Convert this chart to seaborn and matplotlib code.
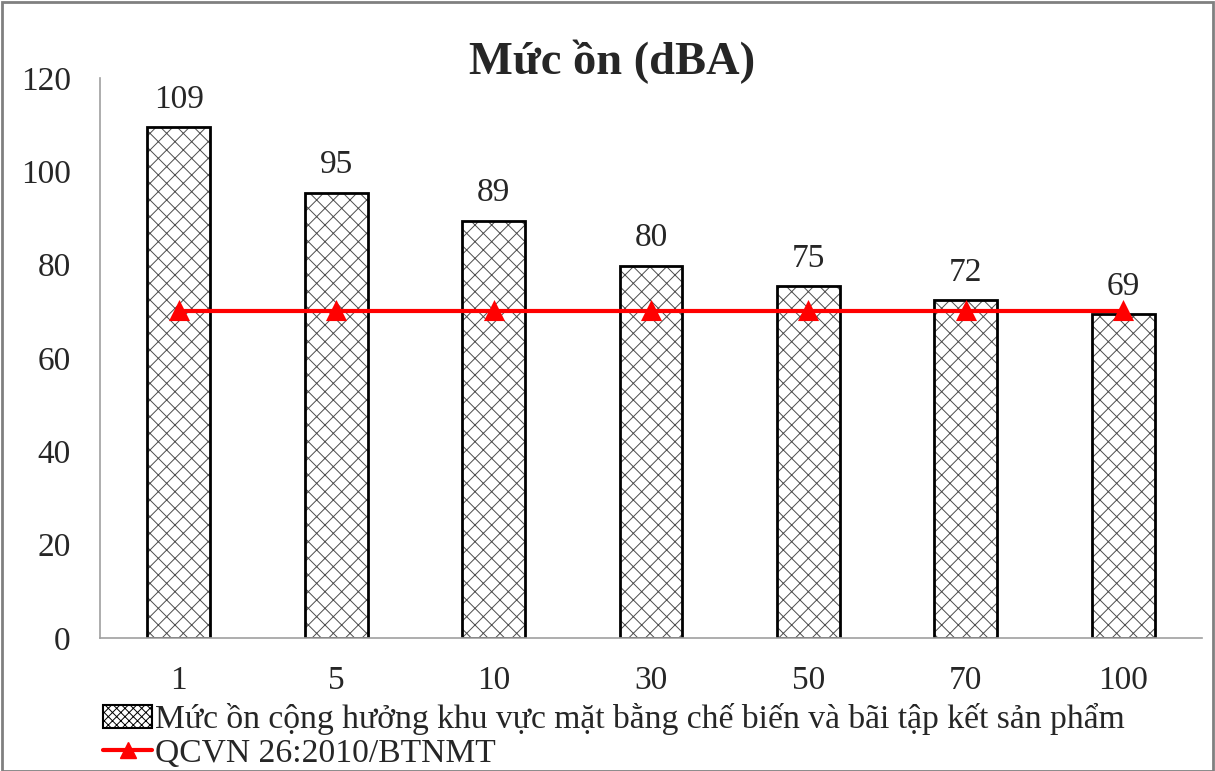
import numpy as np
import pandas as pd
import seaborn as sns
import matplotlib.pyplot as plt
from matplotlib.patches import Patch, Rectangle
from matplotlib.lines import Line2D

# dữ liệu
khoang_cach = ["1", "5", "10", "30", "50", "70", "100"]
muc_on = [109.4, 95.4, 89.4, 79.8, 75.4, 72.4, 69.4]
qcvn = [70, 70, 70, 70, 70, 70, 70]

ten_bar = "Mức ồn cộng hưởng khu vực mặt bằng chế biến và bãi tập kết sản phẩm"
ten_line = "QCVN 26:2010/BTNMT"

df = pd.DataFrame({"kc": khoang_cach, "on": muc_on, "qc": qcvn})

sns.set_style("white")
plt.rcParams['font.family'] = ['Liberation Serif', 'DejaVu Serif']
plt.rcParams['hatch.linewidth'] = 0.7

fig = plt.figure(figsize=(12.15, 7.71), dpi=100)
ax = fig.add_axes([0.0823, 0.1725, 0.907, 0.7263])

sns.barplot(data=df, x="kc", y="on", order=khoang_cach, color="white",
            edgecolor="black", linewidth=2, width=0.4, ax=ax)
for p in ax.patches:
    p.set_hatch("xx")
    p._hatch_color = (0.3, 0.3, 0.3, 1)  # hatch xám như bản gốc

ax.bar_label(ax.containers[0], fmt="%.0f", padding=9, fontsize=24)

sns.pointplot(data=df, x="kc", y="qc", order=khoang_cach, color="#ff0000",
              markers="^", markersize=12, linewidth=3, ax=ax)

ax.set_ylim(0, 120)
ax.set_yticks(np.arange(0, 121, 20))
ax.set_xlim(-0.5, 6.5)
ax.set_xlabel("")
ax.set_ylabel("")
ax.tick_params(axis="both", labelsize=24, length=0)
ax.tick_params(axis="x", pad=20)
ax.tick_params(axis="y", pad=21)
for s in ["top", "right"]:
    ax.spines[s].set_visible(False)
for s in ["left", "bottom"]:
    ax.spines[s].set_color("#a0a0a0")
    ax.spines[s].set_linewidth(1.2)

fig.suptitle("Mức ồn (dBA)", x=0.504, y=0.948, fontsize=33.5, fontweight="bold")

handles = [
    Patch(facecolor="white", edgecolor="black", hatch="xxxx", linewidth=1.5, label=ten_bar),
    Line2D([0], [0], color="#ff0000", lw=3, marker="^", markersize=12, label=ten_line),
]
fig.legend(handles=handles, loc="upper left", bbox_to_anchor=(0.085, 0.088),
           frameon=False, fontsize=24.2, handlelength=1.45, handletextpad=0.1,
           labelspacing=0.1, borderaxespad=0, borderpad=0)

fig.patches.append(Rectangle((0.002, 0.0), 0.996, 0.997, transform=fig.transFigure,
                             fill=False, edgecolor="#808080", linewidth=2))

plt.savefig("out.png", dpi=100)
